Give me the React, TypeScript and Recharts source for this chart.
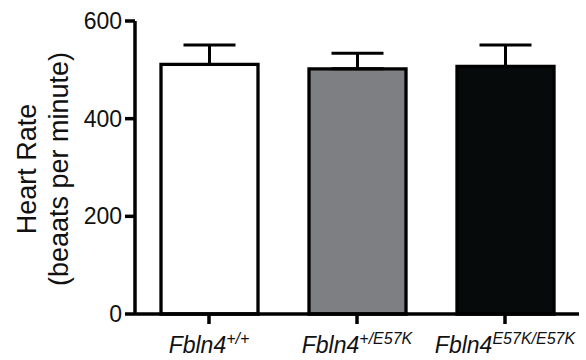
import { BarChart, Bar, Cell, ErrorBar, XAxis, YAxis } from 'recharts'

const genotypes = ['+/+', '+/E57K', 'E57K/E57K']
const heartRate = [511, 502, 507]
const sem = [40, 32, 44]
const yTicks = [0, 200, 400, 600]
const fills = ['#ffffff', '#7e7f83', '#070a0b']

const data = genotypes.map((g, i) => ({
  genotype: g,
  rate: heartRate[i],
  err: [0, sem[i]],
}))

const FONT = '"Liberation Sans", Arial, sans-serif'

function GenotypeTick({ x, y, payload }: any) {
  return (
    <text x={x} y={y + 27} textAnchor="middle" fontFamily={FONT} fontStyle="italic" fill="#111">
      <tspan fontSize={23}>Fbln4</tspan>
      <tspan fontSize={16} dy={-9}>{payload.value}</tspan>
    </text>
  )
}

function RateTitle() {
  return (
    <g fontFamily={FONT} fontSize={27} fill="#111" textAnchor="middle">
      <text x={27} y={169} dominantBaseline="central" transform="rotate(-90, 27, 169)">
        Heart Rate
      </text>
      <text x={59} y={169} dominantBaseline="central" transform="rotate(-90, 59, 169)">
        (beaats per minute)
      </text>
    </g>
  )
}

export default function App() {
  return (
    <div style={{ position: 'absolute', left: 0, top: 0, background: '#fff' }}>
      <BarChart
        width={586}
        height={360}
        data={data}
        margin={{ top: 21, right: 7, bottom: 16, left: 0 }}
      >
        <XAxis
          dataKey="genotype"
          height={30}
          tick={<GenotypeTick />}
          tickSize={10}
          tickMargin={2}
          interval={0}
          axisLine={{ stroke: '#000', strokeWidth: 3.5 }}
          tickLine={{ stroke: '#000', strokeWidth: 3.5 }}
        />
        <YAxis
          width={135}
          domain={[0, 600]}
          ticks={yTicks}
          interval={0}
          tickSize={10}
          tickMargin={3}
          tick={{ fill: '#111', fontSize: 23, fontFamily: FONT }}
          axisLine={{ stroke: '#000', strokeWidth: 3.5 }}
          tickLine={{ stroke: '#000', strokeWidth: 3.5 }}
          label={{ content: () => <RateTitle /> }}
        />
        <Bar dataKey="rate" barSize={97} stroke="#000" strokeWidth={3.3} isAnimationActive={false}>
          {data.map((_, i) => (
            <Cell key={i} fill={fills[i]} />
          ))}
          <ErrorBar dataKey="err" direction="y" width={26} stroke="#000" strokeWidth={3} />
        </Bar>
      </BarChart>
    </div>
  )
}
